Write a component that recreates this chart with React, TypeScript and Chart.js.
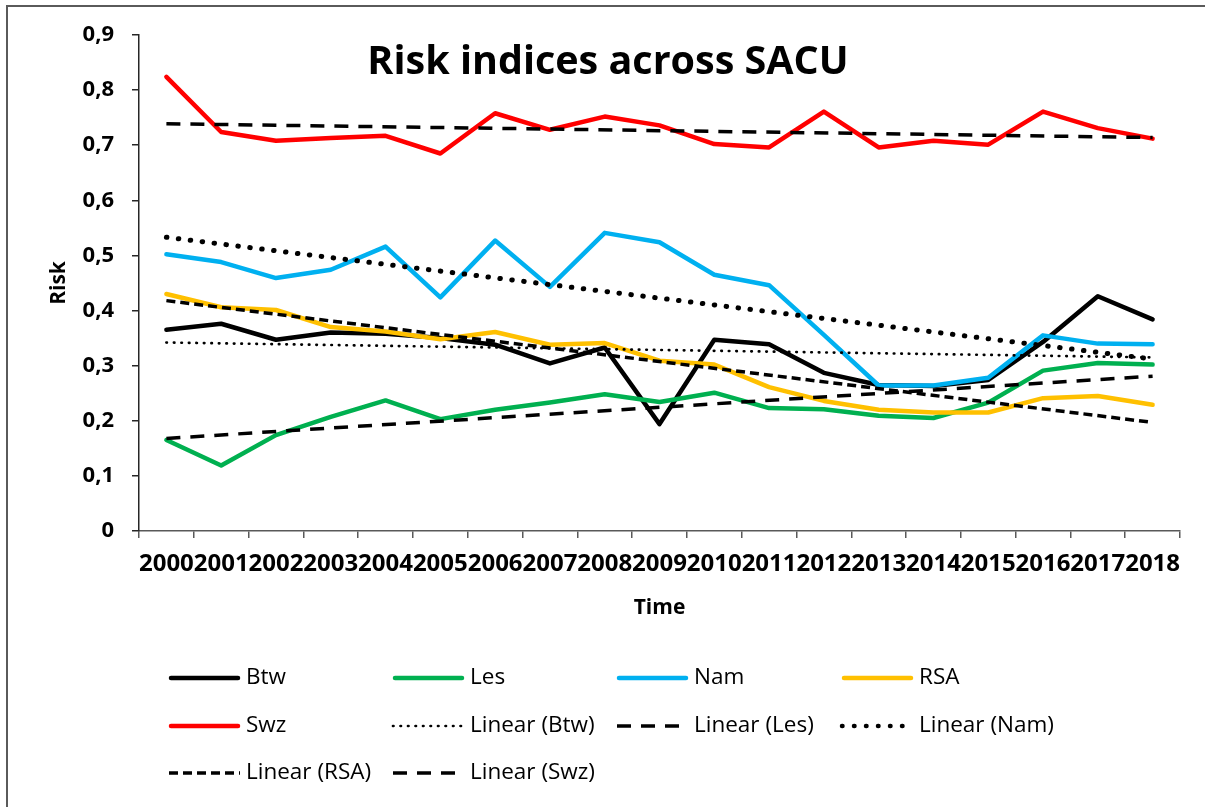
import React, { useEffect, useRef } from 'react';
import { Chart, registerables } from 'chart.js';

Chart.register(...registerables);

const FONT = "'Open Sans', 'DejaVu Sans', sans-serif";

const years = ['2000', '2001', '2002', '2003', '2004', '2005', '2006', '2007', '2008', '2009', '2010', '2011', '2012', '2013', '2014', '2015', '2016', '2017', '2018'];

const btw = [0.365, 0.376, 0.347, 0.36, 0.358, 0.35, 0.338, 0.304, 0.333, 0.194, 0.347, 0.339, 0.287, 0.265, 0.263, 0.274, 0.343, 0.426, 0.384];
const les = [0.165, 0.119, 0.174, 0.207, 0.237, 0.203, 0.22, 0.233, 0.248, 0.234, 0.251, 0.223, 0.221, 0.209, 0.205, 0.233, 0.291, 0.305, 0.302];
const nam = [0.502, 0.488, 0.459, 0.474, 0.516, 0.424, 0.527, 0.443, 0.541, 0.524, 0.465, 0.446, 0.356, 0.264, 0.264, 0.278, 0.355, 0.34, 0.339];
const rsa = [0.43, 0.406, 0.401, 0.37, 0.362, 0.348, 0.361, 0.338, 0.341, 0.309, 0.302, 0.261, 0.236, 0.22, 0.215, 0.215, 0.241, 0.245, 0.229];
const swz = [0.824, 0.724, 0.708, 0.713, 0.717, 0.685, 0.758, 0.728, 0.752, 0.736, 0.702, 0.696, 0.761, 0.696, 0.708, 0.701, 0.761, 0.731, 0.712];

// Trend line end values (first year, last year)
const trendBtw = [0.342, 0.315];
const trendLes = [0.168, 0.281];
const trendNam = [0.533, 0.312];
const trendRsa = [0.418, 0.197];
const trendSwz = [0.739, 0.714];

const legendCols = [169, 393, 617, 842];
const legendRows = [678, 726, 773];

function trendData(ends: number[]) {
  return years.map((_, i) => (i === 0 ? ends[0] : i === years.length - 1 ? ends[1] : null));
}

function solid(label: string, data: number[], color: string, order: number) {
  return {
    label,
    data,
    borderColor: color,
    backgroundColor: color,
    borderWidth: 4.5,
    pointRadius: 0,
    pointHoverRadius: 0,
    borderCapStyle: 'round',
    borderJoinStyle: 'round',
    tension: 0,
    fill: false,
    order,
  };
}

function trend(label: string, ends: number[], width: number, dash: number[], cap: string, order: number) {
  return {
    label,
    data: trendData(ends),
    borderColor: '#000000',
    backgroundColor: '#000000',
    borderWidth: width,
    borderDash: dash,
    borderCapStyle: cap,
    pointRadius: 0,
    pointHoverRadius: 0,
    spanGaps: true,
    fill: false,
    order,
  };
}

const framePlugin = {
  id: 'frame',
  beforeDraw(chart: any) {
    const ctx = chart.ctx;
    ctx.save();
    ctx.fillStyle = '#ffffff';
    ctx.fillRect(0, 0, chart.width, chart.height);
    ctx.strokeStyle = '#5a5a5a';
    ctx.lineWidth = 2;
    ctx.beginPath();
    ctx.moveTo(7, chart.height + 5);
    ctx.lineTo(7, 6);
    ctx.lineTo(chart.width + 5, 6);
    ctx.stroke();
    ctx.restore();
  },
};

const titlePlugin = {
  id: 'innerTitle',
  afterDraw(chart: any) {
    const ctx = chart.ctx;
    ctx.save();
    ctx.font = `bold 39.5px ${FONT}`;
    ctx.fillStyle = '#000000';
    ctx.textAlign = 'center';
    ctx.textBaseline = 'alphabetic';
    ctx.fillText('Risk indices across SACU', 608, 74);
    ctx.restore();
  },
};

const legendPlugin = {
  id: 'gridLegend',
  afterDraw(chart: any) {
    const ctx = chart.ctx;
    ctx.save();
    chart.data.datasets.forEach((ds: any, i: number) => {
      const c = i % 4;
      const r = Math.floor(i / 4);
      const x = legendCols[c];
      const y = legendRows[r];
      ctx.beginPath();
      ctx.strokeStyle = ds.borderColor;
      ctx.lineWidth = Math.min(ds.borderWidth, 4.5);
      ctx.lineCap = ds.borderCapStyle || 'butt';
      ctx.setLineDash(ds.borderDash || []);
      const pad = ds.borderDash ? 0 : 2;
      ctx.moveTo(x + pad, y);
      ctx.lineTo(x + 71 - pad, y);
      ctx.stroke();
      ctx.setLineDash([]);
      ctx.font = `22.5px ${FONT}`;
      ctx.fillStyle = '#000000';
      ctx.textAlign = 'left';
      ctx.textBaseline = 'middle';
      ctx.fillText(ds.label, x + 77, y);
    });
    ctx.restore();
  },
};

export default function App() {
  const ref = useRef<HTMLCanvasElement | null>(null);

  useEffect(() => {
    if (!ref.current) return;
    const chart = new Chart(ref.current, {
      type: 'line',
      data: {
        labels: years,
        datasets: [
          solid('Btw', btw, '#000000', 14),
          solid('Les', les, '#00B050', 13),
          solid('Nam', nam, '#00B0F0', 12),
          solid('RSA', rsa, '#FFC000', 11),
          solid('Swz', swz, '#FF0000', 10),
          trend('Linear (Btw)', trendBtw, 2.7, [0.5, 7], 'round', 5),
          trend('Linear (Les)', trendLes, 3.5, [14, 10], 'butt', 4),
          trend('Linear (Nam)', trendNam, 5, [0.5, 11.5], 'round', 3),
          trend('Linear (RSA)', trendRsa, 3.5, [9, 5], 'butt', 2),
          trend('Linear (Swz)', trendSwz, 3.5, [14, 10], 'butt', 1),
        ] as any,
      },
      options: {
        responsive: false,
        animation: false,
        events: [],
        layout: { padding: { left: 46, right: 25, top: 35, bottom: 176 } },
        plugins: {
          legend: { display: false },
          title: { display: false },
          tooltip: { enabled: false },
        },
        scales: {
          x: {
            type: 'category',
            offset: true,
            grid: {
              display: true,
              drawOnChartArea: false,
              drawTicks: true,
              tickLength: 7,
              offset: true,
              color: '#595959',
              lineWidth: 1.5,
            },
            border: { display: true, color: '#595959', width: 1.5 },
            ticks: {
              autoSkip: false,
              maxRotation: 0,
              minRotation: 0,
              padding: 12,
              color: '#000000',
              font: { family: FONT, size: 24, weight: 'bold' },
            },
            title: {
              display: true,
              text: 'Time',
              color: '#000000',
              font: { family: FONT, size: 21, weight: 'bold' },
              padding: { top: 0, bottom: 10 },
            },
            afterFit: (s: any) => {
              s.height = 100;
            },
          },
          y: {
            min: 0,
            max: 0.9,
            grid: {
              display: true,
              drawOnChartArea: false,
              drawTicks: true,
              tickLength: 7,
              color: '#262626',
              lineWidth: 1.5,
            },
            border: { display: true, color: '#262626', width: 1.5 },
            ticks: {
              stepSize: 0.1,
              padding: 18,
              color: '#000000',
              font: { family: FONT, size: 22, weight: 'bold' },
              callback: (v: any) => (Number(v) === 0 ? '0' : Number(v).toFixed(1).replace('.', ',')),
            },
            title: {
              display: true,
              text: 'Risk',
              color: '#000000',
              font: { family: FONT, size: 21, weight: 'bold' },
              padding: { top: 0, bottom: 0 },
            },
            afterFit: (s: any) => {
              s.width = 93;
            },
          },
        },
      } as any,
      plugins: [framePlugin, titlePlugin, legendPlugin],
    });
    return () => chart.destroy();
  }, []);

  return (
    <div style={{ position: 'fixed', left: 0, top: 0, width: 1205, height: 807, background: '#fff', overflow: 'hidden' }}>
      <canvas ref={ref} width={1205} height={807} style={{ display: 'block', width: 1205, height: 807 }} />
    </div>
  );
}
